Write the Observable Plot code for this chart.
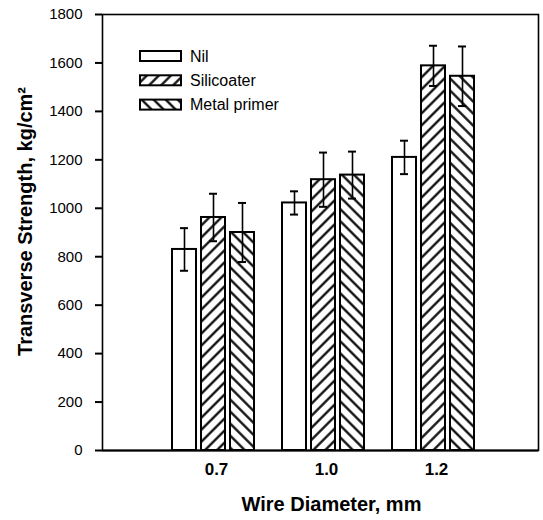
<!DOCTYPE html>
<html>
<head>
<meta charset="utf-8">
<script src="https://cdn.jsdelivr.net/npm/d3@7"></script>
<script src="https://cdn.jsdelivr.net/npm/@observablehq/plot@0.6"></script>
<style>
  body { margin: 0; background: white; }
  #wrap { position: relative; width: 543px; height: 520px; font-family: "Liberation Sans", Arial, sans-serif; }
  #legend { position: absolute; left: 0; top: 0; pointer-events: none; }
</style>
</head>
<body>
<svg width="0" height="0" style="position:absolute">
  <defs>
    <pattern id="hatch-fwd" patternUnits="userSpaceOnUse" width="8.5" height="8.5" patternTransform="rotate(45)">
      <rect width="8.5" height="8.5" fill="white"></rect>
      <line x1="4.25" y1="0" x2="4.25" y2="8.5" stroke="black" stroke-width="2.2"></line>
    </pattern>
    <pattern id="hatch-back" patternUnits="userSpaceOnUse" width="8.5" height="8.5" patternTransform="rotate(-45)">
      <rect width="8.5" height="8.5" fill="white"></rect>
      <line x1="4.25" y1="0" x2="4.25" y2="8.5" stroke="black" stroke-width="2.2"></line>
    </pattern>
  </defs>
</svg>
<div id="wrap"></div>
<script>
// ---- data ----
const diameters = ["0.7", "1.0", "1.2"];
const seriesNames = ["Nil", "Silicoater", "Metal primer"];
const nilMean = [830, 1022, 1210];
const nilErr = [88, 48, 69];
const silMean = [962, 1118, 1588];
const silErr = [98, 112, 83];
const metMean = [900, 1137, 1545];
const metErr = [122, 97, 123];
const yTicks = [0, 200, 400, 600, 800, 1000, 1200, 1400, 1600, 1800];
const xTitle = "Wire Diameter, mm";
const yTitle = "Transverse Strength, kg/cm²";

// ---- styling per series ----
const fills = ["white", "url(#hatch-fwd)", "url(#hatch-back)"];
const offsets = [-29, 0, 29];

const means = [nilMean, silMean, metMean];
const errs = [nilErr, silErr, metErr];
const rowsBySeries = seriesNames.map((s, si) =>
  diameters.map((d, di) => ({series: s, diameter: d, value: means[si][di], err: errs[si][di]}))
);

const marks = [];
rowsBySeries.forEach((rows, si) => {
  marks.push(Plot.barY(rows, {
    x: "diameter", y: "value", fill: fills[si], stroke: "black", strokeWidth: 2,
    insetLeft: 43, insetRight: 43, dx: offsets[si]
  }));
});
rowsBySeries.forEach((rows, si) => {
  marks.push(Plot.ruleX(rows, {
    x: "diameter", y1: d => d.value - d.err, y2: d => d.value + d.err,
    stroke: "black", strokeWidth: 1.6, dx: offsets[si]
  }));
  marks.push(Plot.tickY(rows, {
    x: "diameter", y: d => d.value + d.err, stroke: "black", strokeWidth: 2,
    insetLeft: 51, insetRight: 51, dx: offsets[si]
  }));
  marks.push(Plot.tickY(rows, {
    x: "diameter", y: d => d.value - d.err, stroke: "black", strokeWidth: 2,
    insetLeft: 51, insetRight: 51, dx: offsets[si]
  }));
});

const chart = Plot.plot({
  width: 543,
  height: 520,
  marginLeft: 102,
  marginRight: 5,
  marginTop: 14,
  marginBottom: 70,
  style: {fontFamily: "'Liberation Sans', Arial, sans-serif", background: "white", color: "black"},
  x: {type: "band", domain: diameters, range: [158, 488], padding: 0},
  y: {domain: [0, 1800]},
  marks: [
    ...marks,
    Plot.frame({stroke: "black", strokeWidth: 1.6}),
    Plot.ruleY([0], {stroke: "black", strokeWidth: 2}),
    Plot.axisY(yTicks, {tickSize: 7, tickPadding: 13, fontSize: 15, strokeWidth: 2, label: null, tickFormat: d => String(d)}),
    Plot.axisX({tickSize: 0, tickPadding: 12, fontSize: 17, fontWeight: "bold", dx: 3, label: null}),
    Plot.text([xTitle], {frameAnchor: "bottom", dx: 11, dy: 54, fontSize: 20, fontWeight: "bold", lineAnchor: "middle"}),
    Plot.text([yTitle], {frameAnchor: "left", textAnchor: "middle", dx: -77, dy: -11, rotate: -90, fontSize: 20, fontWeight: "bold", lineAnchor: "middle"})
  ]
});

const wrap = document.getElementById("wrap");
wrap.appendChild(chart);

// ---- legend overlay ----
const ns = "http://www.w3.org/2000/svg";
const leg = document.createElementNS(ns, "svg");
leg.setAttribute("id", "legend");
leg.setAttribute("width", 543);
leg.setAttribute("height", 520);
seriesNames.forEach((name, i) => {
  const cy = 56 + i * 24.3;
  const r = document.createElementNS(ns, "rect");
  r.setAttribute("x", 140); r.setAttribute("y", cy - 5);
  r.setAttribute("width", 41); r.setAttribute("height", 10);
  r.setAttribute("fill", fills[i]); r.setAttribute("stroke", "black"); r.setAttribute("stroke-width", 2);
  leg.appendChild(r);
  const t = document.createElementNS(ns, "text");
  t.setAttribute("x", 190); t.setAttribute("y", cy);
  t.setAttribute("dominant-baseline", "central");
  t.setAttribute("font-size", 16);
  t.setAttribute("font-family", "'Liberation Sans', Arial, sans-serif");
  t.textContent = name;
  leg.appendChild(t);
});
wrap.appendChild(leg);
</script>
</body>
</html>
